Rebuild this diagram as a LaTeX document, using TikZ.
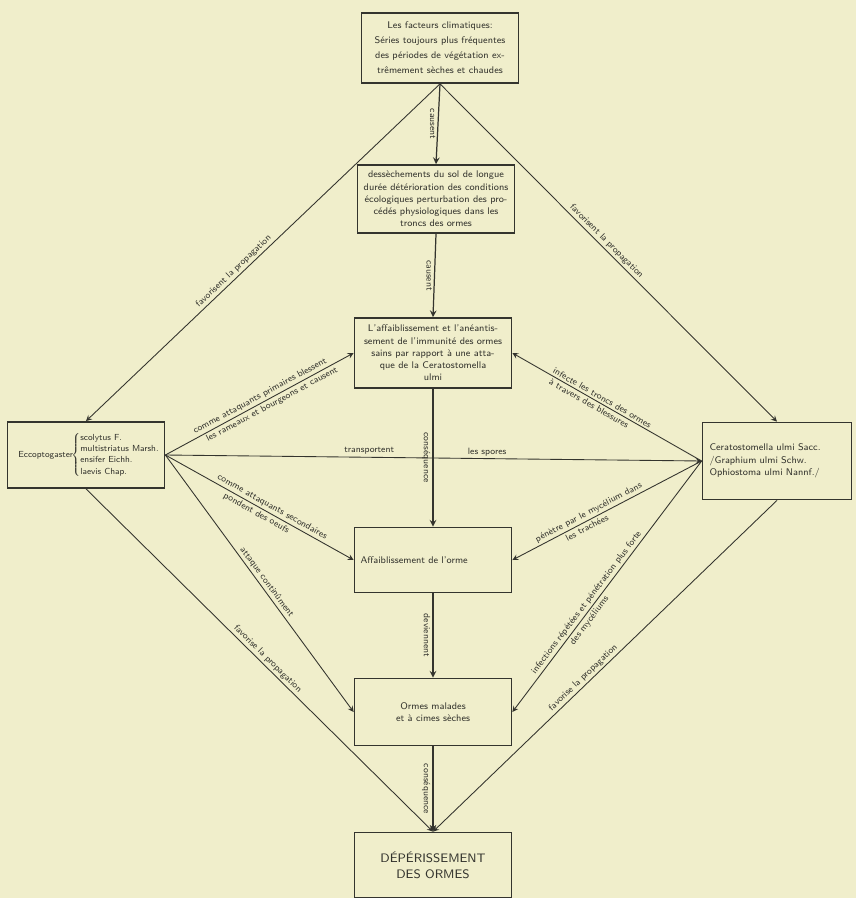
\documentclass[tikz,border=0pt]{standalone}
\usepackage{tikz}
\usepackage{amsmath}
\usepackage{xcolor}

\definecolor{papier}{RGB}{240,238,203}
\definecolor{encre}{RGB}{52,52,46}

\begin{document}
\begin{tikzpicture}
        [x=0.02cm,y=-0.02cm,
         boite/.style={draw=encre,line width=1pt,minimum width=3.14cm,align=center,
           inner sep=2pt,text=encre,font=\fontsize{5.5}{7}\selectfont\sffamily},
         etiq/.style={text=encre,inner sep=1.2pt,align=center,
           font=\fontsize{5.2}{6.5}\selectfont\sffamily},
         fleche/.style={-stealth,draw=encre,line width=0.5pt}]

        \fill[papier] (0,0) rectangle (856,898);
        \useasboundingbox (0,0) rectangle (856,898);

        \node[boite,minimum height=1.4cm,font=\fontsize{5.5}{8.5}\selectfont\sffamily] (climat) at (440,48)
          {Les facteurs climatiques:\\ Séries toujours plus fréquentes\\ des périodes de végétation ex-\\trêmement sèches et chaudes};
        \node[boite,minimum height=1.36cm] (dessech) at (436,199)
          {dessèchements du sol de longue\\ durée détérioration des conditions\\ écologiques perturbation des pro-\\cédés physiologiques dans les\\ troncs des ormes};
        \node[boite,minimum height=1.4cm] (affaib) at (433,353)
          {L'affaiblissement et l'anéantis-\\sement de l'immunité des ormes\\ sains par rapport à une atta-\\que de la Ceratostomella\\ ulmi};
        \node[boite,minimum height=1.32cm,font=\fontsize{5}{6.5}\selectfont\sffamily] (scolyt) at (86,455)
          {Eccoptogaster\hspace{-1pt}$\left\{\begin{tabular}{@{}l@{}}scolytus F.\\ multistriatus Marsh.\\ ensifer Eichh.\\ laevis Chap.\end{tabular}\right.$\hspace{-4pt}};
        \node[boite,minimum width=2.98cm,minimum height=1.54cm,text width=2.7cm,align=left] (cerato) at (777,461)
          {Ceratostomella ulmi Sacc.\\ /Graphium ulmi Schw.\\ Ophiostoma ulmi Nannf./};
        \node[boite,minimum height=1.3cm,text width=2.9cm,align=left] (affarb) at (433,560)
          {Affaiblissement de l'orme};
        \node[boite,minimum height=1.34cm] (malades) at (433,712)
          {Ormes malades\\ et à cimes sèches};
        \node[boite,minimum height=1.3cm,font=\fontsize{7}{9}\selectfont\sffamily] (deperis) at (433,865)
          {DÉPÉRISSEMENT\\ DES ORMES};

        % axe vertical
        \draw[fleche,line width=0.7pt] (climat.south) -- node[etiq,rotate=-90,anchor=north] {causent} (dessech.north);
        \draw[fleche,line width=0.7pt] (dessech.south) -- node[etiq,rotate=-90,anchor=north] {causent} (affaib.north);
        \draw[fleche,line width=0.7pt] (affaib.south) -- node[etiq,rotate=-90,anchor=north] {conséquence} (affarb.north);
        \draw[fleche,line width=0.7pt] (affarb.south) -- node[etiq,rotate=-90,anchor=north] {deviennent} (malades.north);
        \draw[fleche,line width=0.7pt] (malades.south) -- node[etiq,rotate=-90,anchor=north] {conséquence} (deperis.north);

        % losange
        \draw[fleche] (climat.south) -- node[etiq,sloped,above,pos=.57] {favorisent la propagation} (scolyt.north);
        \draw[fleche] (climat.south) -- node[etiq,sloped,above,pos=.48] {favorisent la propagation} (cerato.north);
        \draw[fleche] (scolyt.south) -- node[etiq,sloped,above,pos=.51] {favorise la propagation} (deperis.north);
        \draw[fleche] (cerato.south) -- node[etiq,sloped,above,pos=.55] {favorise la propagation} (deperis.north);

        % Eccoptogaster
        \draw[fleche] (scolyt.east) -- node[etiq,sloped,above,pos=.52] {comme attaquants primaires blessent}
                                       node[etiq,sloped,below,pos=.55] {les rameaux et bourgeons et causent} (affaib.west);
        \draw[fleche] (scolyt.east) -- node[etiq,above,pos=.38] {transportent}
                                       node[etiq,above,pos=.6] {les spores} (cerato.west);
        \draw[fleche] (scolyt.east) -- node[etiq,sloped,above,pos=.55] {comme attaquants secondaires}
                                       node[etiq,sloped,below,pos=.5] {pondent des oeufs} (affarb.west);
        \draw[fleche] (scolyt.east) -- node[etiq,sloped,above,pos=.51] {attaque continûment} (malades.west);

        % Ceratostomella
        \draw[fleche] (cerato.west) -- node[etiq,sloped,above,pos=.54] {infecte les troncs des ormes}
                                       node[etiq,sloped,below,pos=.58] {à travers des blessures} (affaib.east);
        \draw[fleche] (cerato.west) -- node[etiq,sloped,above,pos=.58] {pénètre par le mycélium dans}
                                       node[etiq,sloped,below,pos=.62] {les trachées} (affarb.east);
        \draw[fleche] (cerato.west) -- node[etiq,sloped,above,pos=.58] {infections répétées et pénétration plus forte}
                                       node[etiq,sloped,below,pos=.62] {des mycéliums} (malades.east);
    \end{tikzpicture}
\end{document}
